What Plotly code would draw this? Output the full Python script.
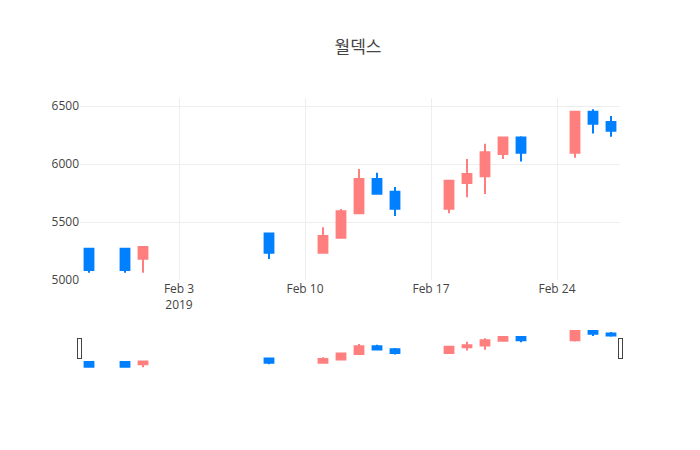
import plotly.graph_objects as go

dates = ["2019-01-29","2019-01-31","2019-02-01","2019-02-08","2019-02-11","2019-02-12","2019-02-13",
         "2019-02-14","2019-02-15","2019-02-18","2019-02-19","2019-02-20","2019-02-21","2019-02-22",
         "2019-02-25","2019-02-26","2019-02-27"]
opens  = [5270,5270,5184,5402,5235,5365,5575,5871,5761,5615,5836,5896,6086,6230,6098,6451,6362]
highs  = [5270,5270,5284,5402,5454,5612,5957,5925,5802,5862,6043,6175,6230,6241,6451,6474,6414]
lows   = [5063,5063,5063,5181,5235,5359,5575,5736,5552,5575,5713,5741,6043,6023,6055,6264,6236]
closes = [5086,5086,5284,5235,5379,5592,5871,5744,5615,5856,5914,6103,6230,6098,6451,6348,6287]

fig = go.Figure(go.Candlestick(
    x=dates, open=opens, high=highs, low=lows, close=closes,
    increasing=dict(line=dict(color="#FF7F7F"), fillcolor="#FF7F7F"),
    decreasing=dict(line=dict(color="#0080FF"), fillcolor="#0080FF"),
))
fig.update_layout(
    title=dict(text="월덱스", x=0.5, font=dict(size=17)),
    template="plotly_white",
    width=700, height=450,
    margin=dict(l=72, r=88, t=90, b=90),
    font=dict(family="Open Sans, Noto Sans CJK KR", color="#444"),
    showlegend=False,
    yaxis=dict(range=[5000, 6570], gridcolor="#eee", zeroline=False),
    xaxis=dict(rangeslider=dict(visible=True), gridcolor="#eee"),
)
fig.write_html("out.html")
